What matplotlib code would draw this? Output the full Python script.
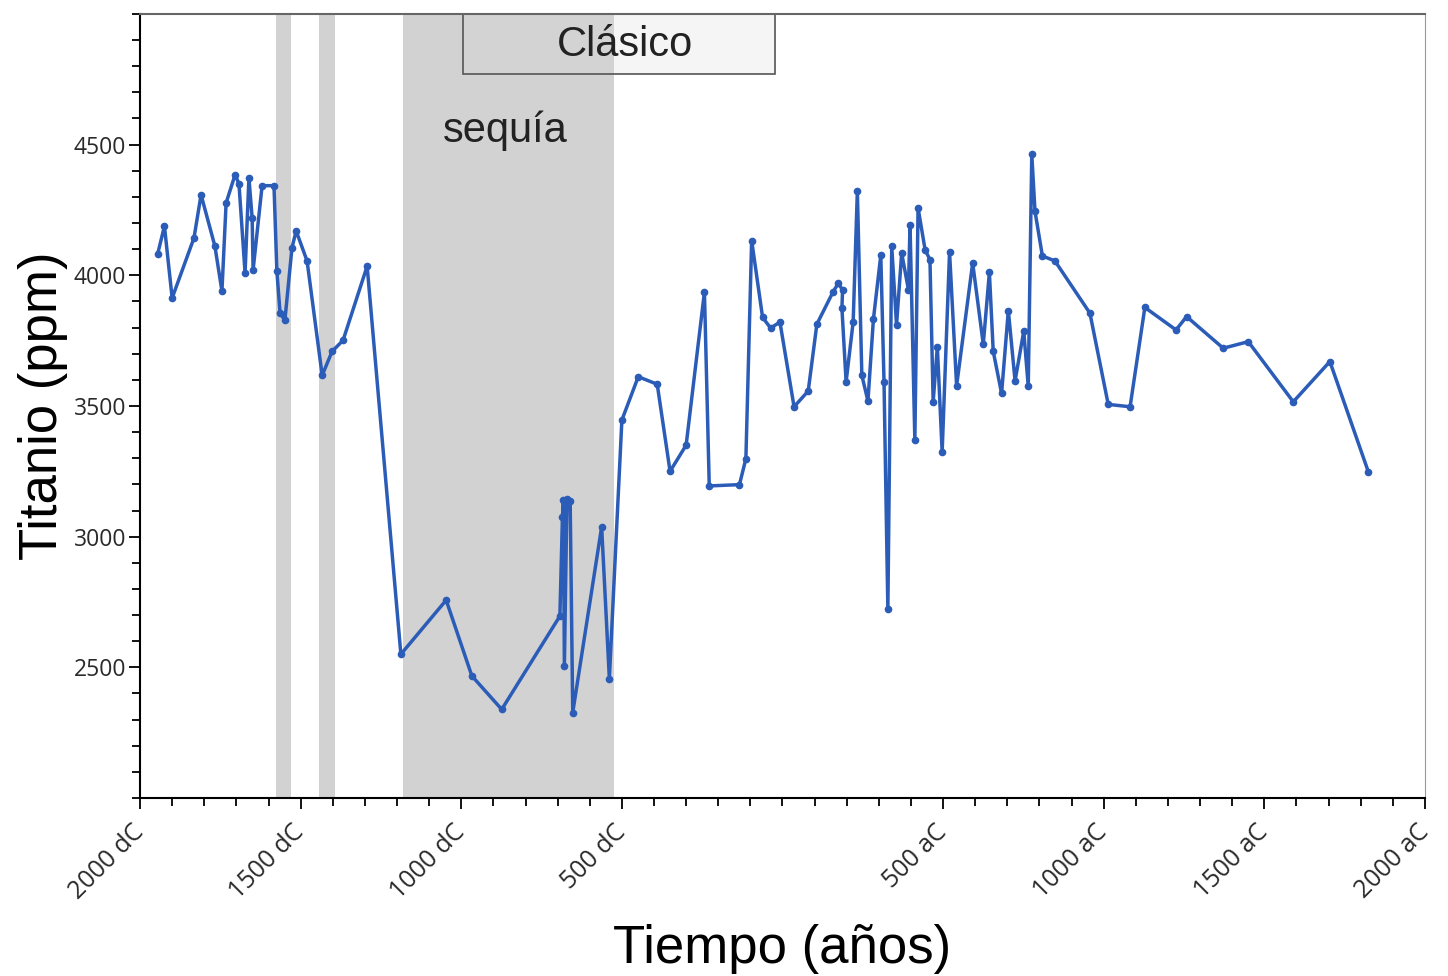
"""Titanio (ppm) vs tiempo, con la sequía del Clásico sombreada."""
import matplotlib
matplotlib.use('Agg')
import matplotlib.pyplot as plt
from matplotlib.patches import Rectangle
from matplotlib.ticker import FixedLocator, MultipleLocator
from matplotlib.transforms import ScaledTranslation

# Años: positivo = dC, negativo = aC
ANIO = [1945, 1924, 1900, 1832, 1810, 1767, 1745, 1732, 1704, 1692,
        1673, 1661, 1651, 1648, 1620, 1583, 1574, 1564, 1549, 1527,
        1514, 1480, 1433, 1402, 1368, 1293, 1188, 1047, 967, 874,
        693, 685, 682, 679, 671, 661, 653, 563, 539, 500,
        449, 390, 350, 300, 243, 228, 134, 114, 96, 62,
        37, 8, -36, -80, -107, -158, -174, -187, -185, -198,
        -220, -233, -247, -266, -283, -306, -316, -328, -340, -355,
        -371, -392, -397, -412, -422, -444, -459, -469, -482, -497,
        -520, -542, -592, -625, -644, -656, -682, -703, -724, -751,
        -765, -776, -786, -809, -848, -957, -1014, -1082, -1128, -1225,
        -1258, -1372, -1450, -1590, -1704, -1824]
TITANIO = [4082, 4188, 3913, 4143, 4308, 4112, 3940, 4277, 4385, 4350,
           4009, 4373, 4220, 4020, 4343, 4343, 4016, 3855, 3828, 4105,
           4170, 4055, 3617, 3709, 3751, 4035, 2550, 2757, 2467, 2339,
           2696, 3076, 3141, 2504, 3145, 3137, 2327, 3037, 2457, 3446,
           3612, 3583, 3250, 3350, 3936, 3194, 3199, 3298, 4133, 3839,
           3798, 3821, 3497, 3557, 3813, 3938, 3970, 3943, 3874, 3592,
           3822, 4322, 3617, 3519, 3832, 4077, 3593, 2723, 4111, 3810,
           4085, 3945, 4194, 3369, 4258, 4097, 4060, 3516, 3727, 3324,
           4089, 3577, 4047, 3736, 4011, 3709, 3548, 3865, 3596, 3786,
           3575, 4463, 4245, 4074, 4055, 3855, 3506, 3497, 3877, 3791,
           3842, 3721, 3746, 3516, 3670, 3247]

# franjas grises (inicio, fin) en años dC
FRANJAS = [(1577, 1530), (1443, 1393), (1181, 525)]
CLASICO = (995, 23)

TICKS = [2000, 1500, 1000, 500, -500, -1000, -1500, -2000]
TICK_LABELS = ['2000 dC', '1500 dC', '1000 dC', '500 dC',
               '500 aC', '1000 aC', '1500 aC', '2000 aC']

plt.rcParams['font.family'] = 'Liberation Sans'

fig = plt.figure(figsize=(14.48, 9.76), dpi=100)
ax = fig.add_axes([0.0967, 0.1824, 0.8874, 0.8033])

for a, b in FRANJAS:
    ax.axvspan(a, b, color='#d2d2d2', lw=0, zorder=0)

ax.add_patch(Rectangle((CLASICO[0], 4770), CLASICO[1] - CLASICO[0], 230,
                       facecolor=(0.85, 0.85, 0.85, 0.25), edgecolor='#555555',
                       lw=1.2, zorder=1))
ax.text(490, 4880, 'Clásico', fontsize=30,
        ha='center', va='center', color='#222222', zorder=2)
ax.text(864, 4555, 'sequía', fontsize=30, ha='center', va='center',
        color='#222222', zorder=2)

ax.plot(ANIO, TITANIO, color='#2b5cb8', lw=2.5, marker='o', ms=4.5,
        zorder=3)

ax.set_xlim(2000, -2000)
ax.set_ylim(2000, 5000)
ax.xaxis.set_major_locator(FixedLocator(TICKS))
ax.set_xticklabels(TICK_LABELS, rotation=45, ha='right', va='center',
                   rotation_mode='anchor', fontsize=18, family='Open Sans',
                   color='#2a2a2a')
offset = ScaledTranslation(8 / 100, 0, fig.dpi_scale_trans)
for lab in ax.get_xticklabels():
    lab.set_transform(lab.get_transform() + offset)
ax.xaxis.set_minor_locator(MultipleLocator(100))
ax.set_yticks([2500, 3000, 3500, 4000, 4500])
ax.set_yticklabels(['2500', '3000', '3500', '4000', '4500'],
                   fontsize=16.5, family='Open Sans', color='#2a2a2a')
ax.yaxis.set_minor_locator(MultipleLocator(100))
ax.tick_params(which='major', length=8, width=1.3, direction='out')
ax.tick_params(which='minor', length=6, width=1.3, direction='out')
ax.tick_params(axis='y', pad=2)
ax.tick_params(axis='x', which='major', pad=14)

ax.spines['top'].set_color('#666666')
ax.spines['top'].set_linewidth(1.5)
ax.spines['right'].set_color('#999999')
for side in ['left', 'bottom']:
    ax.spines[side].set_linewidth(1.5)

ax.set_xlabel('Tiempo (años)', fontsize=38, labelpad=14)
ax.set_ylabel('Titanio (ppm)', fontsize=38, labelpad=4)

fig.savefig('out.png', dpi=100)
